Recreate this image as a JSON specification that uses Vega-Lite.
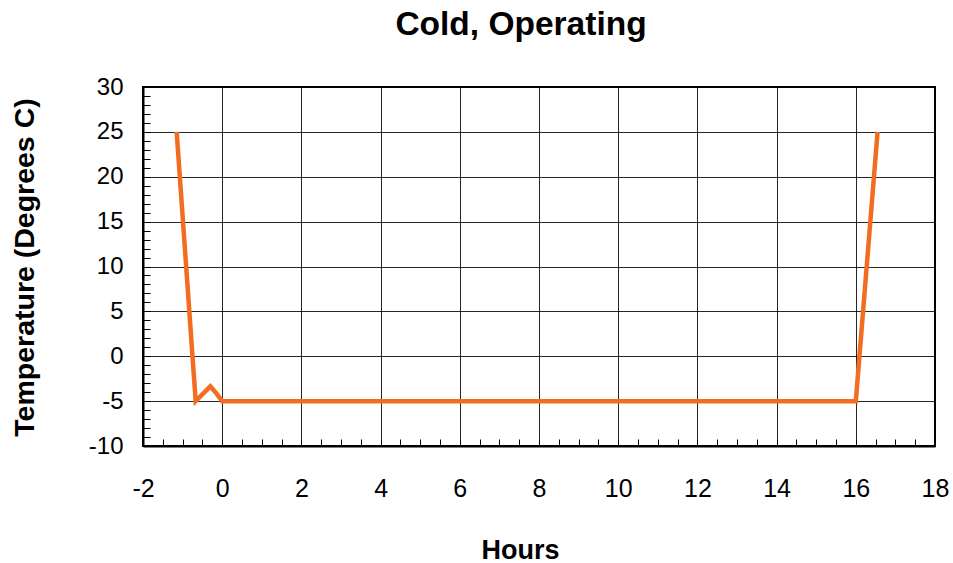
{
  "$schema": "https://vega.github.io/schema/vega-lite/v6.json",
  "autosize": {"type": "none"},
  "width": 792,
  "height": 359,
  "padding": {"left": 143, "top": 87, "right": 18, "bottom": 117},
  "background": "white",
  "config": {
    "font": "Liberation Sans",
    "view": {"stroke": "black", "strokeWidth": 2}
  },
  "title": {
    "text": "Cold, Operating",
    "font": "Liberation Sans",
    "fontSize": 33.5,
    "fontWeight": "bold",
    "color": "black",
    "anchor": "middle",
    "frame": "group",
    "baseline": "alphabetic",
    "offset": 7,
    "dx": -18
  },
  "data": {
    "values": [
      {"hours": -1.15, "temp": 25},
      {"hours": -0.67, "temp": -5},
      {"hours": -0.3, "temp": -3.35},
      {"hours": -0.17, "temp": -4.0},
      {"hours": 0, "temp": -5},
      {"hours": 16, "temp": -5},
      {"hours": 16.55, "temp": 25}
    ]
  },
  "mark": {"type": "line", "color": "#F26D21", "strokeWidth": 4.5, "strokeJoin": "miter"},
  "encoding": {
    "x": {
      "field": "hours",
      "type": "quantitative",
      "scale": {"domain": [-2, 18], "nice": false, "zero": false},
      "axis": {
        "title": "Hours",
        "titleFont": "Liberation Sans",
        "titleFontSize": 27,
        "titleFontWeight": "bold",
        "titleColor": "black",
        "titleX": 377,
        "titleY": 112,
        "titleAlign": "center",
        "titleBaseline": "alphabetic",
        "values": [-2, -1.5, -1, -0.5, 0, 0.5, 1, 1.5, 2, 2.5, 3, 3.5, 4, 4.5, 5, 5.5, 6, 6.5, 7, 7.5, 8, 8.5, 9, 9.5, 10, 10.5, 11, 11.5, 12, 12.5, 13, 13.5, 14, 14.5, 15, 15.5, 16, 16.5, 17, 17.5, 18],
        "labelExpr": "datum.value % 2 === 0 ? '' + datum.value : ''",
        "labelOverlap": false,
        "labelFlush": false,
        "labelFont": "Liberation Sans",
        "labelFontSize": 25,
        "labelColor": "black",
        "labelBaseline": "alphabetic",
        "labelPadding": 57,
        "tickSize": -7,
        "tickColor": "black",
        "tickWidth": 1,
        "domainColor": "black",
        "domainWidth": 2,
        "grid": true,
        "gridColor": "black",
        "gridWidth": 1,
        "gridOpacity": {"condition": {"test": "datum.value % 2 === 0", "value": 0.85}, "value": 0}
      }
    },
    "y": {
      "field": "temp",
      "type": "quantitative",
      "scale": {"domain": [-10, 30], "nice": false, "zero": false},
      "axis": {
        "title": "Temperature (Degrees C)",
        "titleFont": "Liberation Sans",
        "titleFontSize": 28.5,
        "titleFontWeight": "bold",
        "titleColor": "black",
        "titleAngle": -90,
        "titleX": -110,
        "titleY": 180,
        "titleAlign": "center",
        "titleBaseline": "alphabetic",
        "values": [-10, -9, -8, -7, -6, -5, -4, -3, -2, -1, 0, 1, 2, 3, 4, 5, 6, 7, 8, 9, 10, 11, 12, 13, 14, 15, 16, 17, 18, 19, 20, 21, 22, 23, 24, 25, 26, 27, 28, 29, 30],
        "labelExpr": "datum.value % 5 === 0 ? '' + datum.value : ''",
        "labelOverlap": false,
        "labelFlush": false,
        "labelFont": "Liberation Sans",
        "labelFontSize": 24,
        "labelColor": "black",
        "labelPadding": 27,
        "tickSize": -7,
        "tickColor": "black",
        "tickWidth": 1,
        "domainColor": "black",
        "domainWidth": 2,
        "grid": true,
        "gridColor": "black",
        "gridWidth": 1,
        "gridOpacity": {"condition": {"test": "datum.value % 5 === 0", "value": 0.85}, "value": 0}
      }
    }
  }
}
